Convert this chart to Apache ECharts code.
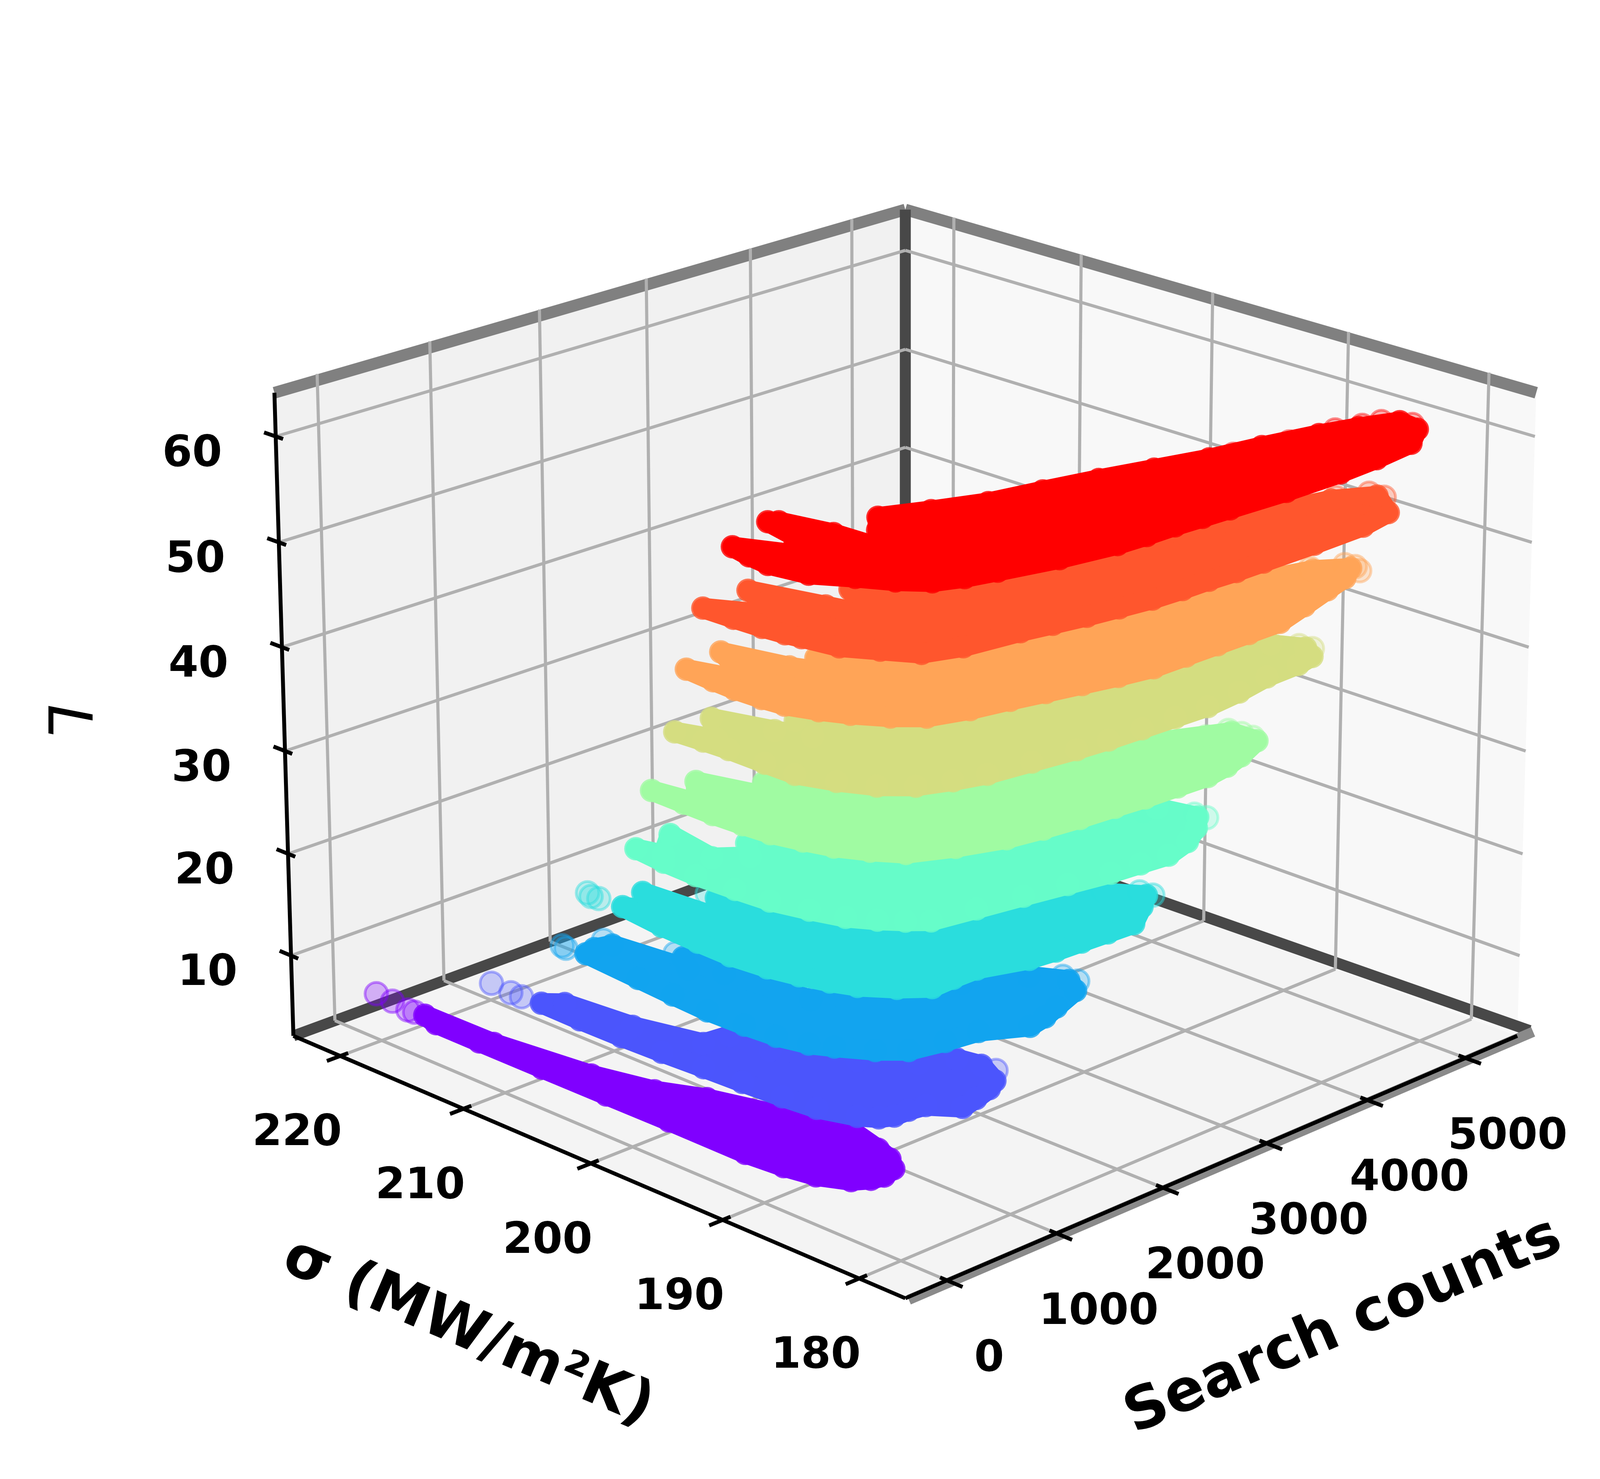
<!DOCTYPE html>
<html><head><meta charset="utf-8">
<script src="https://cdn.jsdelivr.net/npm/echarts@6/dist/echarts.min.js"></script>
<style>html,body{margin:0;padding:0;background:#fff;width:100%;height:100%;overflow:hidden}#c{width:100%;height:100%}</style>
</head><body><div id="c"></div>
<script>
const countTicks=[0,1000,2000,3000,4000,5000];
const sigmaTicks=[180,190,200,210,220];
const lTicks=[10,20,30,40,50,60];
const levels=[6,12,18,24,30,36,42,48,54,60];
const colors=['#8000ff','#4b55fc','#12a4ef','#2adddd','#66fcc9','#a0fba2','#d4dd80','#ffa457','#ff562d','#ff0000'];

// [search count, sigma], one outline of the dense band per L level
const band6=[[44,216.8],[2,215.5],[0,212],[0,207],[2,202],[5,197.2],[0,191.4],[30,188.8],[78,186.8],[185,185.1],[290,184.5],[386,184.3],[510,184.6],[600,185.6],[655,186.9],[745,189.7],[600,193.2],[431,197.9],[274,200.6],[155,204.5],[52,211.3]];
const band12=[[37,207.3],[28,204.2],[30,201],[41,198],[60,195],[74,192.2],[95,189.4],[124,187.1],[219,184.9],[300,184],[390,183.6],[520,183.6],[652,183.4],[798,181.9],[960,182.2],[1134,182.6],[1249,183.1],[1367,185],[1329,186.5],[1100,187.5],[850,190],[567,194.2],[548,197.1],[334,197.3],[200,201.6],[144,206.4]];
const band18=[[102,204.3],[58,199.9],[28,197],[5,194.2],[12,191.5],[31,189.3],[90,187.4],[174,186.2],[320,184.4],[470,183.2],[740,182.7],[1006,182.4],[1301,181],[1480,181.3],[1651,181.8],[1935,182.6],[2028,183.8],[1896,185.7],[1500,187.5],[1100,189.8],[611,191.5],[516,197.2],[510,200.3],[400,199],[327,204.2],[200,204.5]];
const band24=[[90,201.3],[40,197.9],[20,195],[10,192.5],[40,190],[93,188.1],[160,186.4],[235,185],[390,183.4],[557,182.2],[760,182.3],[975,182.3],[1330,181.3],[1550,181.1],[1777,181],[2010,180.9],[2242,180.8],[2494,182.1],[2656,183],[2502,184.7],[2000,186.8],[1500,188.8],[1000,191.5],[627,198.7],[400,196.8],[352,202],[170,200]];
const band30=[[88,200.2],[55,197.8],[43,195.3],[58,192.5],[79,190.1],[150,187.8],[229,185.8],[340,184.4],[454,183.3],[572,182.4],[920,181.9],[1286,181.4],[1630,180.9],[1967,180.4],[2220,180.2],[2458,180],[2720,180.6],[2940,181.6],[3088,182.6],[3017,185],[2500,186.8],[1900,188.8],[1300,191],[667,196.7],[520,195.2],[330,196.5],[417,200.4],[143,198.6]];
const band36=[[93,199],[85,196.5],[81,194.3],[92,192.2],[111,190.3],[170,188.4],[236,186.7],[350,185],[483,183.5],[780,182.3],[1116,181.3],[1400,180.9],[1700,180.6],[2000,180.4],[2258,180.2],[2550,180.1],[2825,180],[3050,180.3],[3253,180.8],[3532,181.7],[3528,183.5],[3000,185.5],[2400,187.2],[1800,189],[1300,191.5],[703,195.7],[600,193],[540,194.5],[407,198.3],[148,196.1]];
const band42=[[129,197.5],[145,195.5],[155,193.7],[150,191],[150,188.8],[250,186.6],[374,184.7],[547,183.3],[780,182.5],[1015,181.9],[1370,181.5],[1731,181.1],[2000,180.9],[2300,180.8],[2600,180.7],[2898,180.6],[3240,180.9],[3578,181.4],[3898,181.5],[4075,181.8],[4165,182.9],[4052,184.6],[3400,186.2],[2700,187.9],[2000,189.8],[1400,191.8],[823,194.3],[700,192],[600,194],[466,197.6],[230,195.2]];
const band48=[[155,196.8],[130,194.6],[118,192.9],[125,191],[146,189.5],[230,187.7],[326,186.2],[470,184.5],[631,183.2],[920,182.4],[1219,181.9],[1480,181.4],[1750,180.9],[2020,180.4],[2297,180],[2600,180],[2900,180],[3200,180],[3500,180],[3850,180.8],[4187,181.6],[4445,182.2],[4614,183],[4404,184.2],[3700,185.8],[3000,187.5],[2300,189.3],[1650,191],[890,193.3],[720,192],[653,193.3],[532,197.4],[294,193.1]];
const band54=[[176,195.7],[182,193.5],[194,191.5],[215,190],[240,189],[290,186.7],[430,184.9],[572,183.1],[844,182.3],[1296,181.8],[1540,181.4],[1800,181],[2060,180.7],[2330,180.4],[2600,180.3],[2850,180.3],[3100,180.2],[3358,180.2],[3850,180.2],[4345,180.3],[4666,180.8],[4865,183],[4588,184.3],[3900,185.6],[3200,187],[2500,188.8],[1800,190.5],[1089,192.4],[950,190.5],[820,189.6],[760,191.5],[612,196],[530,194],[376,192.9]];
const band60=[[250,194.1],[205,192.5],[177,190.9],[231,188.4],[396,186.4],[528,184.6],[680,183.2],[880,182.5],[1113,182],[1558,181.1],[2012,180.5],[2270,180.4],[2535,180.4],[2780,180.3],[3028,180.2],[3541,180],[4065,180],[4451,180.2],[4850,180.6],[5099,181.9],[5135,183.4],[4850,184.3],[4553,185],[4100,185.8],[3667,186.4],[3260,187.3],[2851,188.2],[2430,189],[2013,189.7],[1640,190.9],[1306,192.1],[1129,190.7],[962,189.2],[897,189.2],[882,191.9],[794,195.2],[744,195.6],[674,193.1],[426,191.1]];
const bands=[band6,band12,band18,band24,band30,band36,band42,band48,band54,band60];

// sparse, pale points outside the dense bands
const sparse6=[[58,220.9],[50,219.5],[24,218],[30,217.5]];
const sparse12=[[31,211.2],[13,209.5],[18,208.7],[1375,184]];
const sparse18=[[72,205.6],[85,206],[340,205],[520,201],[2050,184.4],[2060,183.4],[1910,186.2]];
const sparse24=[[64,203.5],[75,203],[90,204],[640,199.5],[2670,183.6],[2690,182.8],[2520,185.1]];
const sparse30=[[3110,183],[3120,182.2],[3030,185.1],[2900,185.1]];
const sparse36=[[3560,183],[3560,182.2],[3540,183.8],[3350,184]];
const sparse42=[[4170,183.4],[4190,182.6],[4070,184.8],[3950,184.9]];
const sparse48=[[4640,183.6],[4660,183],[4420,184.5],[4620,182.4]];
const sparse54=[[4870,183.6],[4880,182.6],[4650,184.4]];
const sparse60=[[5050,184.1],[4900,184.4],[4700,184.9],[5150,182.6],[4300,185.3],[3850,186]];
const sparses=[sparse6,sparse12,sparse18,sparse24,sparse30,sparse36,sparse42,sparse48,sparse54,sparse60];

// axis limits and camera
const cMin=-374,cMax=5538,sMin=176.7,sMax=223.9,lMin=2.05,lMax=64.1;
const E=20*Math.PI/180,CX=2407,CY=1841.5,SCALE=1168,HZ=.75,DIST=16.8;
function project(c,s,l){
  const qa=-1+2*(c-cMin)/(cMax-cMin),qb=-1+2*(s-sMin)/(sMax-sMin),qc=HZ*(-1+2*(l-lMin)/(lMax-lMin));
  const r=Math.SQRT1_2;
  const u=r*(qa-qb),v=Math.sin(E)*r*(qa+qb)+Math.cos(E)*qc,w=-Math.cos(E)*r*(qa+qb)+Math.sin(E)*qc;
  const f=1/(1-w/DIST);
  return [CX+SCALE*u*f,CY-SCALE*v*f];
}
function seg(a,b){return project(...a).concat(project(...b));}

function segSeries(rows,color,width,z){return {type:'custom',coordinateSystem:'cartesian2d',silent:true,animation:false,clip:false,z,data:rows,encode:{x:[0,2],y:[1,3]},
  renderItem:(p,api)=>{const a=api.coord([api.value(0),api.value(1)]),b=api.coord([api.value(2),api.value(3)]);
    return {type:'line',shape:{x1:a[0],y1:a[1],x2:b[0],y2:b[1]},style:{stroke:color,lineWidth:width,fill:null}};}};}
function polySeries(pts,color,strokeW,z){return {type:'custom',coordinateSystem:'cartesian2d',silent:true,animation:false,clip:false,z,data:pts,encode:{x:0,y:1},
  renderItem:(p,api)=>{if(p.dataIndex!==0)return null;
    return {type:'polygon',shape:{points:pts.map(q=>api.coord(q))},style:{fill:color,stroke:strokeW?color:null,lineWidth:strokeW,lineJoin:'round'}};}};}
function textSeries(rows,labels,font,z,rot,dx,dy,style){return {type:'custom',coordinateSystem:'cartesian2d',silent:true,animation:false,clip:false,z,data:rows,encode:{x:0,y:1},
  renderItem:(p,api)=>{const a=api.coord([api.value(0)+dx,api.value(1)+dy]);
    return {type:'text',x:a[0],y:a[1],rotation:rot,style:Object.assign({text:String(labels[p.dataIndex]),fill:'#000',align:'center',verticalAlign:'middle',fontFamily:'DejaVu Sans',fontSize:font},style)};}};}
function rgba(h,a){const n=parseInt(h.slice(1),16);return `rgba(${n>>16},${(n>>8)&255},${n&255},${a})`;}

const series=[];
// walls and floor
series.push(polySeries([[cMin,sMax,lMin],[cMax,sMax,lMin],[cMax,sMax,lMax],[cMin,sMax,lMax]].map(p=>project(...p)),'#f1f1f1',0,1));
series.push(polySeries([[cMax,sMax,lMin],[cMax,sMin,lMin],[cMax,sMin,lMax],[cMax,sMax,lMax]].map(p=>project(...p)),'#f8f8f8',0,1));
series.push(polySeries([[cMin,sMin,lMin],[cMax,sMin,lMin],[cMax,sMax,lMin],[cMin,sMax,lMin]].map(p=>project(...p)),'#f4f4f4',0,1));
// pane edges
series.push(segSeries([seg([cMin,sMax,lMax],[cMax,sMax,lMax]),seg([cMax,sMax,lMax],[cMax,sMin,lMax])],'#808080',30,2));
series.push(segSeries([seg([cMax,sMax,lMin],[cMax,sMax,lMax]),seg([cMin,sMax,lMin],[cMax,sMax,lMin]),seg([cMax,sMax,lMin],[cMax+130,sMin,lMin])],'#484848',28,2));
series.push(segSeries([seg([cMin,sMin-.25,lMin],[cMax+130,sMin-.25,lMin])],'#8a8a8a',26,2));
// grid
const gridRows=[];
countTicks.forEach(c=>{gridRows.push(seg([c,sMin,lMin],[c,sMax,lMin]),seg([c,sMax,lMin],[c,sMax,lMax+.6]));});
sigmaTicks.forEach(s=>{gridRows.push(seg([cMin,s,lMin],[cMax,s,lMin]),seg([cMax,s,lMin],[cMax,s,lMax+.6]));});
lTicks.forEach(l=>{gridRows.push(seg([cMin,sMax,l],[cMax,sMax,l]),seg([cMax,sMax,l],[cMax,sMin,l]));});
series.push(segSeries(gridRows,'#b0b0b0',8,3));
// axes and ticks
const axisRows=[seg([cMin,sMin,lMin],[cMax,sMin,lMin]),seg([cMin,sMax,lMin],[cMin,sMin,lMin]),seg([cMin,sMax,lMin],[cMin,sMax,lMax])];
countTicks.forEach(c=>axisRows.push(seg([c,sMin-1.1,lMin],[c,sMin+.5,lMin])));
sigmaTicks.forEach(s=>axisRows.push(seg([cMin-120,s,lMin],[cMin+70,s,lMin])));
lTicks.forEach(l=>axisRows.push(seg([cMin,sMax+.95,l],[cMin,sMax-.6,l])));
series.push(segSeries(axisRows,'#000',10,4));
// tick labels and titles
const TF=110,TS={fontWeight:'bold'};
series.push(textSeries(countTicks.map(c=>project(c,sMin,lMin)),countTicks,TF,5,0,112,203,TS));
series.push(textSeries(sigmaTicks.map(s=>project(cMin,s,lMin)),sigmaTicks,TF,5,0,-115,200,TS));
series.push(textSeries(lTicks.map(l=>project(cMin,sMax,l)),lTicks,TF,5,0,-222,47,TS));
const ANG=23.2*Math.PI/180;
series.push(textSeries([project((cMin+cMax)/2,sMin,lMin)],['Search counts'],150,5,ANG,319,424,TS));
series.push(textSeries([project(cMin,(sMin+sMax)/2,lMin)],['σ (MW/m²K)'],150,5,-ANG,-317,439,TS));
series.push(textSeries([project(cMin,sMax,(lMin+lMax)/2)],['L'],155,5,-Math.PI/2,-585,5,{fontStyle:'italic'}));
// data layers
levels.forEach((L,i)=>{
  const col=colors[i];
  const pts=bands[i].map(p=>project(p[0],p[1],L));
  series.push({type:'scatter',silent:true,animation:false,z:10+i,symbol:'circle',symbolSize:58,
    data:sparses[i].map(p=>project(p[0],p[1],L)),
    itemStyle:{color:rgba(col,.35),borderColor:rgba(col,.55),borderWidth:7}});
  series.push(polySeries(pts,col,52,10+i));
  series.push({type:'scatter',silent:true,animation:false,z:10+i,symbol:'circle',symbolSize:60,data:pts,itemStyle:{color:col}});
});
// the page draws the 4254 wide layout into whatever width the browser gives it
const chart=echarts.init(document.getElementById('c'));
chart.setOption({animation:false,backgroundColor:'#fff',tooltip:{show:false},legend:{show:false},
  grid:{left:0,right:0,top:0,bottom:0},
  xAxis:{type:'value',min:0,max:4254,show:false},
  yAxis:{type:'value',min:0,max:3787,inverse:true,show:false},
  series});
</script></body></html>
